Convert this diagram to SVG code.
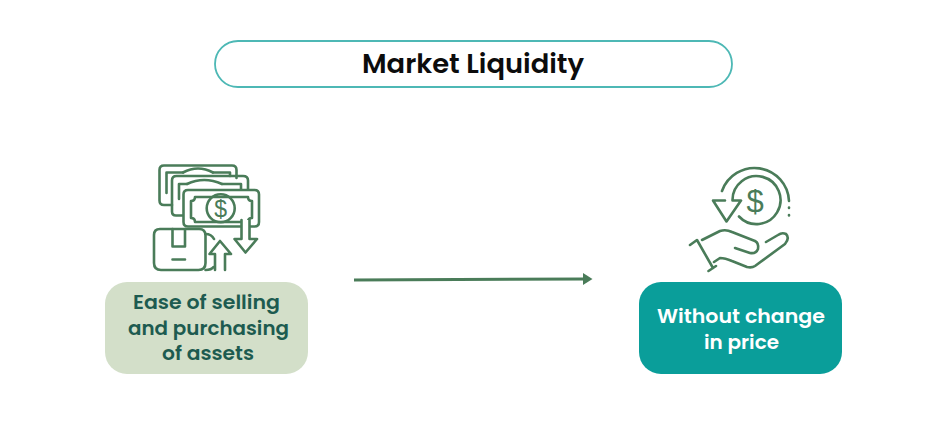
<svg xmlns="http://www.w3.org/2000/svg" width="950" height="446" viewBox="0 0 950 446">
<style>
.t{font-family:"Poppins","Inter","Open Sans","Liberation Sans",sans-serif;font-weight:600;text-anchor:middle}
.i{fill:none;stroke:#4a7c59;stroke-width:2.6;stroke-linecap:round;stroke-linejoin:round}
.d{font-family:"Liberation Sans",sans-serif;fill:#4a7c59;text-anchor:middle}
</style>
<defs><marker id="ah" markerUnits="userSpaceOnUse" markerWidth="10" markerHeight="14" refX="1" refY="7" orient="auto"><path d="M0 1L9.500 7L0 13Z" fill="#4a7c59"/></marker></defs>
<rect width="950" height="446" fill="#fff"/>
<g id="title">
<rect x="215" y="41" width="517" height="46" rx="23" fill="#fff" stroke="#4db8b5" stroke-width="1.8"/>
<text class="t" x="473" y="73" font-size="26" fill="#0c0c0c" textLength="222" lengthAdjust="spacingAndGlyphs">Market Liquidity</text>
</g>
<g id="money-icon" class="i">
<path d="M172 205H164q-4.500 0-4.500-4.500V170q0-4.500 4.500-4.500H232q4.500 0 4.500 4.500V178"/>
<path d="M183 215.500H176q-4 0-4-4V180.500q0-4.500 4.500-4.500H243q5 0 5 4.500V190"/>
<path d="M166.500 193V172.500H183M213 172.500H230V176M179 199V184H187M222 184H241V190"/>
<path d="M183 172.500q15-8 30 0M187 184q17-8 35 0"/>
<path d="M188 190H254.500q4.500 0 4.500 4.500V222q0 4.500-4.500 4.500H188q-4.500 0-4.500-4.500V194.500q0-4.500 4.500-4.500Z" fill="#fff"/>
<path d="M195 197H248q0 4 4 4V218q-4 0-4 4H195q0-4-4-4V201q4 0 4-4Z"/>
<circle cx="220.700" cy="208.300" r="14"/>
<text class="d" x="220.700" y="216.500" font-size="23" stroke="none">$</text>
<path d="M160 229H199q6.500 0 6.500 6.500V263q0 7-7 7H161q-7 0-7-7V235q0-6 6-6Z" fill="#fff"/>
<path d="M172.500 229V246.500H185V229M172.500 259.500H185"/>
<path d="M205.500 234q6 0 8.500 5M205.500 270q6 0 8-3"/>
<path d="M215 270V254H209.500L220 241L231 254H225V270"/>
<path d="M241.500 220V239H234.500L245.500 252.500L257 239H249.500V220" fill="#fff"/>
</g>
<g id="price-icon" class="i">
<path d="M789 201A34.500 34.500 0 0 0 722 191"/>
<path d="M725 200.500H713L726.500 221.500L741 200.500H732.500A24 24 0 1 1 739 216.500"/>
<path d="M789 207.500v.5M789 215v.5"/>
<text class="d" x="755" y="211.500" font-size="31" stroke="none">$</text>
<path d="M690 245L697 240L713 268M708.500 271L716 266"/>
<path d="M702 240L720 231Q726 229 732 232L755 241Q759 243 758 249Q756 254 750 253L735 248"/>
<path d="M714 262L720 258Q725 258 732 261L747 267Q752 268 755 266L785 244Q790 238 786 234Q782 232 778 235L766 242"/>
</g>
<g id="connectors">
<path d="M354 280L584 279" fill="none" stroke="#4a7c59" stroke-width="3" marker-end="url(#ah)"/>
</g>
<g id="node-ease">
<rect x="105" y="282" width="203" height="92" rx="22" fill="#d3dfc9"/>
<text class="t" font-size="20" fill="#1d5b50" x="206.500" y="309" textLength="147" lengthAdjust="spacingAndGlyphs">Ease of selling</text>
<text class="t" font-size="20" fill="#1d5b50" x="208.500" y="335" textLength="161" lengthAdjust="spacingAndGlyphs">and purchasing</text>
<text class="t" font-size="20" fill="#1d5b50" x="208" y="360" textLength="92" lengthAdjust="spacingAndGlyphs">of assets</text>
</g>
<g id="node-price">
<rect x="639" y="282" width="203" height="92" rx="22" fill="#0a9e9a"/>
<text class="t" font-size="20" fill="#fff" x="741" y="323" textLength="168" lengthAdjust="spacingAndGlyphs">Without change</text>
<text class="t" font-size="20" fill="#fff" x="741.500" y="349" textLength="75" lengthAdjust="spacingAndGlyphs">in price</text>
</g>
</svg>
